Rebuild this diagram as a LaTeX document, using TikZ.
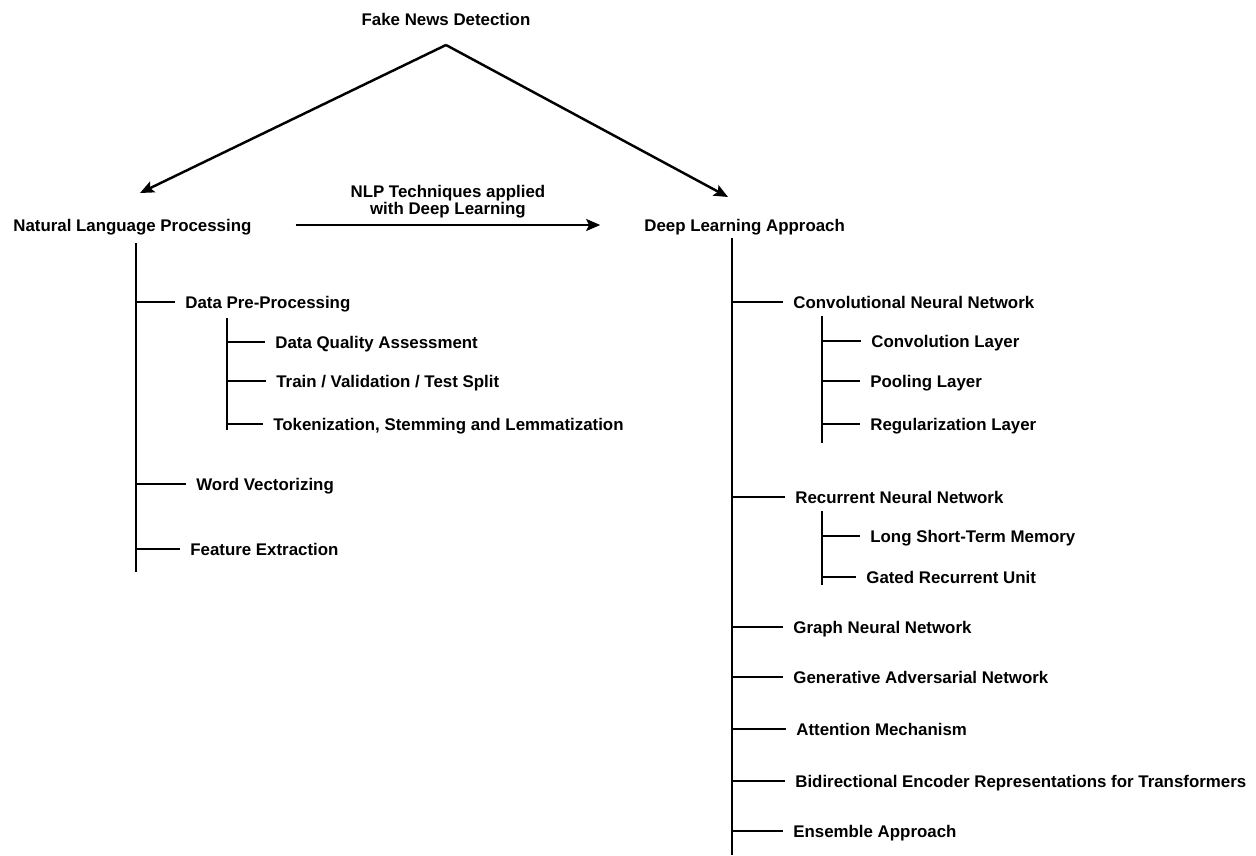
\documentclass[tikz,border=0pt]{standalone}
\usepackage{fontspec}
\setmainfont{Liberation Sans}
\usepackage{tikz}
\usetikzlibrary{shapes,arrows,arrows.meta}
\tikzstyle{topic} = [font=\bfseries\fontsize{9.6}{10.5}\selectfont, inner sep=0pt, text height=6.9pt, text depth=0pt]
\tikzstyle{leaf} = [topic, anchor=west, inner xsep=5.7pt]
\tikzstyle{line} = [draw, line width=1.4pt, -{Stealth[length=8pt, width=6.8pt, inset=1.6pt]}]
\tikzstyle{branch} = [draw, line width=1.4pt]

\begin{document}
\begin{tikzpicture}[x=0.02cm, y=-0.02cm]
        \useasboundingbox (0,0) rectangle (1256,855);
        % Place nodes
        \node [topic] (fnd) at (446,19) {Fake News Detection};
        \node [topic, anchor=west] (nlp) at (13,225) {Natural Language Processing};
        \node [topic, anchor=west] (dla) at (644,225) {Deep Learning Approach};
        % NLP side
        \node [leaf] (dpp) at (175,302) {Data Pre-Processing};
        \node [leaf] (dqa) at (265,342) {Data Quality Assessment};
        \node [leaf] (tvt) at (266,381) {Train / Validation / Test Split};
        \node [leaf] (tok) at (263,424) {Tokenization, Stemming and Lemmatization};
        \node [leaf] (wvec) at (186,484) {Word Vectorizing};
        \node [leaf] (fext) at (180,549) {Feature Extraction};
        % Deep learning side
        \node [leaf] (cnn) at (783,302) {Convolutional Neural Network};
        \node [leaf] (conv) at (861,341) {Convolution Layer};
        \node [leaf] (pool) at (860,381) {Pooling Layer};
        \node [leaf] (reg) at (860,424) {Regularization Layer};
        \node [leaf] (rnn) at (785,497) {Recurrent Neural Network};
        \node [leaf] (lstm) at (860,536) {Long Short-Term Memory};
        \node [leaf] (gru) at (856,577) {Gated Recurrent Unit};
        \node [leaf] (gnn) at (783,627) {Graph Neural Network};
        \node [leaf] (gan) at (783,677) {Generative Adversarial Network};
        \node [leaf] (attn) at (786,729) {Attention Mechanism};
        \node [leaf] (bert) at (785,781) {Bidirectional Encoder Representations for Transformers};
        \node [leaf] (ens) at (783,831) {Ensemble Approach};
        % Trunk ends
        \coordinate (apex) at (446,45);
        \coordinate (nlpIn) at (140,193);
        \coordinate (dlaIn) at (728,197);
        \coordinate (nlpT) at (136,243);
        \coordinate (nlpB) at (136,572);
        \coordinate (dppT) at (227,318);
        \coordinate (dppB) at (227,430);
        \coordinate (dlaT) at (732,238);
        \coordinate (dlaB) at (732,855);
        \coordinate (cnnT) at (822,316);
        \coordinate (cnnB) at (822,443);
        \coordinate (rnnT) at (822,511);
        \coordinate (rnnB) at (822,585);
        % Draw edges
        \path [line] (apex) -- (nlpIn);
        \path [line] (apex) -- (dlaIn);
        \path [line, shorten <=24.9pt, shorten >=24.9pt] (nlp.east) -- (dla.west)
            node [midway, above=3pt, font=\bfseries\fontsize{9.6}{10.2}\selectfont, inner sep=0pt, align=center] (nlpdl) {NLP Techniques applied\\with Deep Learning};
        \path [branch] (nlpT) -- (nlpB);
        \path [branch] (dppT) -- (dppB);
        \path [branch] (dlaT) -- (dlaB);
        \path [branch] (cnnT) -- (cnnB);
        \path [branch] (rnnT) -- (rnnB);
        \foreach \n in {dpp,wvec,fext}
            \path [branch] (nlpT |- \n.west) -- (\n.west);
        \foreach \n in {dqa,tok}
            \path [branch] (dppT |- \n.west) -- (\n.west);
        \path [draw, line width=0.7pt] (dppT |- tvt.west) -- (tvt.west);
        \foreach \n in {cnn,rnn,gnn,gan,attn,bert,ens}
            \path [branch] (dlaT |- \n.west) -- (\n.west);
        \foreach \n in {conv,pool,reg}
            \path [branch] (cnnT |- \n.west) -- (\n.west);
        \foreach \n in {lstm,gru}
            \path [branch] (rnnT |- \n.west) -- (\n.west);
    \end{tikzpicture}
\end{document}
